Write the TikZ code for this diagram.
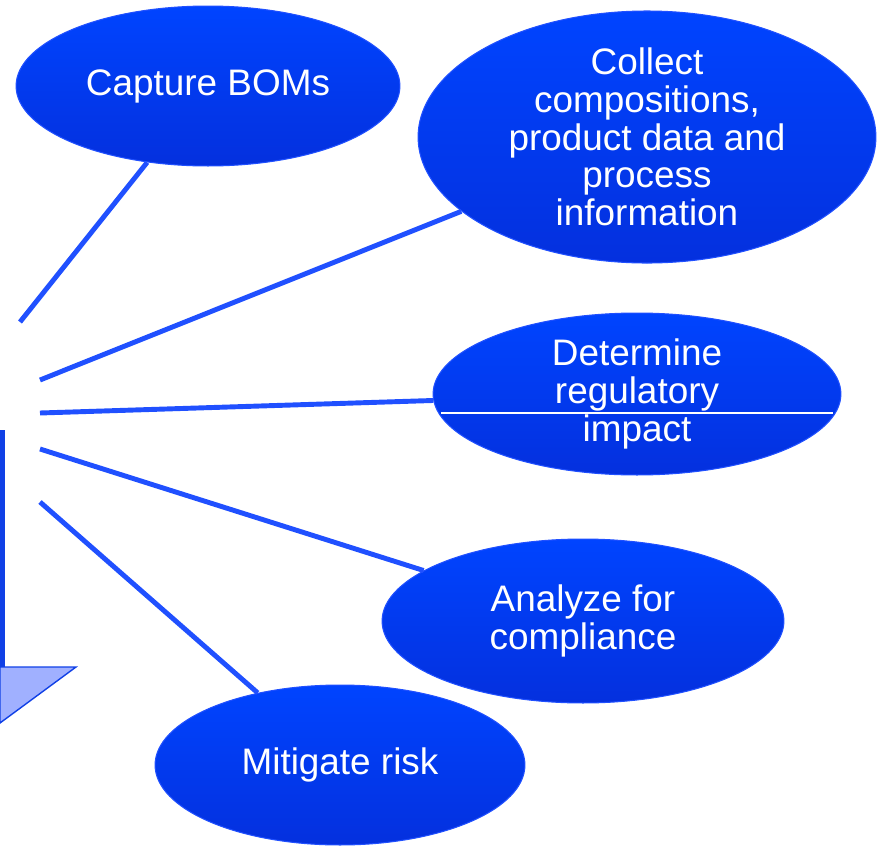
\documentclass[tikz,border=0pt]{standalone}
\usepackage{fontspec}
\setmainfont{Liberation Sans}
\usepackage{tikz}
\usetikzlibrary{shapes.geometric}
\definecolor{ellipseTop}{RGB}{0,68,255}
\definecolor{ellipseBottom}{RGB}{4,48,222}
\definecolor{spokeColor}{RGB}{32,80,255}
\definecolor{barColor}{RGB}{16,64,230}
\definecolor{arrowFill}{RGB}{160,176,255}
\tikzstyle{canvas} = [x = .02cm, y = -.02cm]
\tikzstyle{stepEllipse} = [ellipse, draw=spokeColor, line width=.6pt, top color=ellipseTop, bottom color=ellipseBottom, text=white, align=center, inner sep=0pt, font=\fontsize{21pt}{21.5pt}\selectfont]
\tikzstyle{spokeLine} = [color=spokeColor, line width=2.8pt]
\newcommand{\stepNode}[6]{\node [stepEllipse, minimum width=#4*.04cm, minimum height=#5*.04cm] (#1) at (#2,#3) {#6};}

\begin{document}
\begin{tikzpicture}[canvas]
  \useasboundingbox (0,0) rectangle (877,846);

  % cut-off arrow on the left
  \filldraw [fill=arrowFill, draw=barColor, line width=.8pt] (0,667) -- (76,667) -- (0,723) -- cycle;
  \draw [barColor, line width=2.8pt] (2.5,430) -- (2.5,667);

  % steps
  \stepNode{capture}{208}{86}{192}{80}{Capture BOMs}
  \stepNode{collect}{647}{137}{229}{115}{Collect\\compositions,\\product data and\\process\\information}
  \stepNode{determine}{637}{394}{204}{81}{Determine\\regulatory\\impact}
  \stepNode{analyze}{583}{621}{201}{82}{Analyze for\\compliance}
  \stepNode{mitigate}{340}{765}{185}{80}{Mitigate risk}

  % spokes
  \coordinate (spokeA) at (20,322);
  \coordinate (spokeB) at (40,380);
  \coordinate (spokeC) at (40,413);
  \coordinate (spokeD) at (40,449);
  \coordinate (spokeE) at (40,502);
  \draw [spokeLine] (spokeA) -- (capture);
  \draw [spokeLine] (spokeB) -- (collect);
  \draw [spokeLine] (spokeC) -- (determine);
  \draw [spokeLine] (spokeD) -- (analyze);
  \draw [spokeLine] (spokeE) -- (mitigate);

  \draw [white, line width=.6pt] (441,413) -- (833,413);
\end{tikzpicture}
\end{document}
